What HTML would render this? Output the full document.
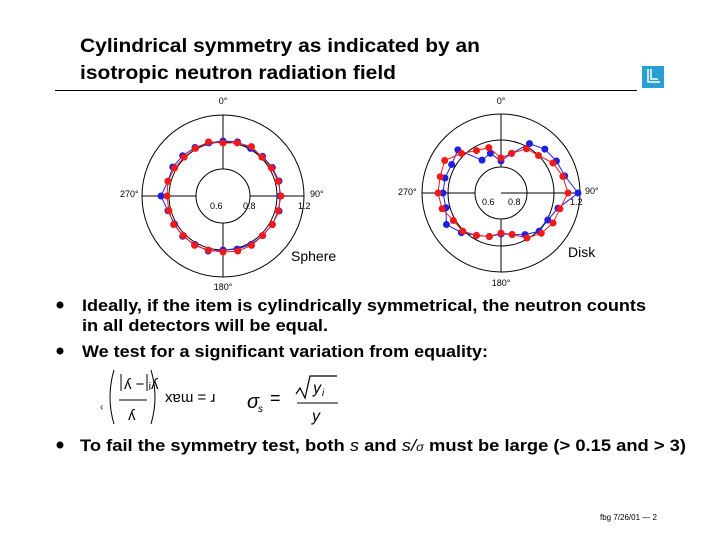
<!DOCTYPE html>
<html><head><meta charset="utf-8"><style>
html,body{margin:0;padding:0;background:#fff}
svg{display:block}
text{font-family:"Liberation Sans",Arial,sans-serif}
.b{font-weight:bold;font-size:17px}
.s{font-size:9px}
</style></head><body>
<svg id="s" width="720" height="540" viewBox="0 0 720 540" xmlns="http://www.w3.org/2000/svg">
<text x="80" y="52" class="b" font-size="19" textLength="400" lengthAdjust="spacingAndGlyphs" style="font-size:19px">Cylindrical symmetry as indicated by an</text>
<text x="80" y="79" class="b" style="font-size:19px" textLength="316" lengthAdjust="spacingAndGlyphs">isotropic neutron radiation field</text>
<line x1="55" y1="90.5" x2="637" y2="90.5" stroke="#000" stroke-width="1"/>
<rect x="642" y="66" width="22" height="22" fill="#2a9fd2"/>
<path d="M648 69 V82 H660 M651 69 V79 H658" stroke="#fff" stroke-width="1.5" fill="none"/>

<g fill="none" stroke="#000" stroke-width="1">
<circle cx="223" cy="196" r="81"/><circle cx="223" cy="196" r="54"/><circle cx="223" cy="196" r="27"/>
<path d="M142 196H196M250 196H304M223 115V169M223 223V277"/>
<circle cx="501" cy="193" r="79"/><circle cx="501" cy="193" r="53"/><circle cx="501" cy="193" r="26"/>
<path d="M422 193H475M501 193H580M501 114V167M501 219V272"/>
</g>
<g id="data"></g>
<g class="s">
<text x="223" y="104" text-anchor="middle">0°</text>
<text x="120" y="197">270°</text>
<text x="310" y="197">90°</text>
<text x="210" y="209">0.6</text><text x="243" y="209">0.8</text><text x="298" y="209">1.2</text>
<text x="223" y="290" text-anchor="middle">180°</text>
<text x="501" y="104" text-anchor="middle">0°</text>
<text x="398" y="195">270°</text>
<text x="585" y="194">90°</text>
<text x="482" y="205">0.6</text><text x="508" y="205">0.8</text><text x="570" y="205">1.2</text>
<text x="501" y="286" text-anchor="middle">180°</text>
</g>
<text x="291" y="261" style="font-size:14px">Sphere</text>
<text x="568" y="257" style="font-size:14px">Disk</text>

<g class="b">
<circle cx="60" cy="305" r="3.5" fill="#000"/>
<text x="82" y="311" textLength="564" lengthAdjust="spacingAndGlyphs">Ideally, if the item is cylindrically symmetrical, the neutron counts</text>
<text x="82" y="331" textLength="246" lengthAdjust="spacingAndGlyphs">in all detectors will be equal.</text>
<circle cx="60" cy="351" r="3.5" fill="#000"/>
<text x="82" y="357" textLength="406" lengthAdjust="spacingAndGlyphs">We test for a significant variation from equality:</text>
<circle cx="60" cy="445" r="3.5" fill="#000"/>
<text x="80" y="451" textLength="606" lengthAdjust="spacingAndGlyphs">To fail the symmetry test, both <tspan font-style="italic" font-weight="normal">s</tspan> and <tspan font-style="italic" font-weight="normal">s/</tspan><tspan font-style="italic" font-weight="normal" font-size="12">σ</tspan> must be large (&gt; 0.15 and &gt; 3)</text>
</g>
<g font-family="Liberation Serif" style="font-family:'Liberation Serif',serif">
<text x="100" y="410" font-size="10">‹</text>
<path d="M114 370 Q106 397 114 424 M151 370 Q159 397 151 424" stroke="#000" fill="none"/>
<path d="M121 374V391M147 374V391M119 400H147" stroke="#000" fill="none"/>
<text x="124" y="389" font-size="15">ʎ − ᵢʎ</text>
<text x="128" y="420" font-size="15">ʎ</text>
<text x="165" y="402" font-size="15">xɐɯ = ɹ</text>
<text x="247" y="408" font-size="20" font-style="italic">σ</text>
<text x="258" y="412" font-size="10" font-style="italic">s</text>
<text x="270" y="404" font-size="18">=</text>
<path d="M296 394 L300 388 L305 398 L310 376 H337" stroke="#000" fill="none" stroke-width="1.2"/>
<text x="313" y="393" font-size="16" font-style="italic">y</text><text x="322" y="396" font-size="10" font-style="italic">i</text>
<path d="M297 403H338" stroke="#000"/>
<text x="312" y="421" font-size="16" font-style="italic">y</text>
</g>
<text x="600" y="520" style="font-size:8px">fbg 7/26/01 — 2</text>
</svg>
<script>
(function(){
var g=document.getElementById('data'),ns='http://www.w3.org/2000/svg';
function draw(cx,cy,rs,col){
 var pts=[];
 for(var i=0;i<rs.length;i++){var a=i*15*Math.PI/180;pts.push([cx+rs[i]*Math.sin(a),cy-rs[i]*Math.cos(a)]);}
 var pl=document.createElementNS(ns,'polygon');
 pl.setAttribute('points',pts.map(function(p){return p[0].toFixed(1)+','+p[1].toFixed(1)}).join(' '));
 pl.setAttribute('fill','none');pl.setAttribute('stroke',col);pl.setAttribute('stroke-width','1');g.appendChild(pl);
 pts.forEach(function(p){var c=document.createElementNS(ns,'circle');c.setAttribute('cx',p[0]);c.setAttribute('cy',p[1]);c.setAttribute('r','3.5');c.setAttribute('fill',col);g.appendChild(c);});
}
draw(223,196,[55,56,55,56,57,58,57,58,57,56,56,55,54,57,56,57,56,57,62,57,58,57,56,55],'#1f1fe0');
draw(223,196,[53,55,57,55,56,57,58,57,57,56,57,57,56,56,57,56,57,56,56,57,56,55,55,56],'#f01a1a');
draw(501,193,[32,41,57,62,64,66,77,59,54,54,48,43,41,45,49,56,63,57,58,58,57,61,38,41],'#1f1fe0');
draw(501,193,[35,41,51,53,60,64,67,61,60,57,52,43,40,45,49,54,55,61,63,63,65,56,49,47],'#f01a1a');
})();
</script>
</body></html>
